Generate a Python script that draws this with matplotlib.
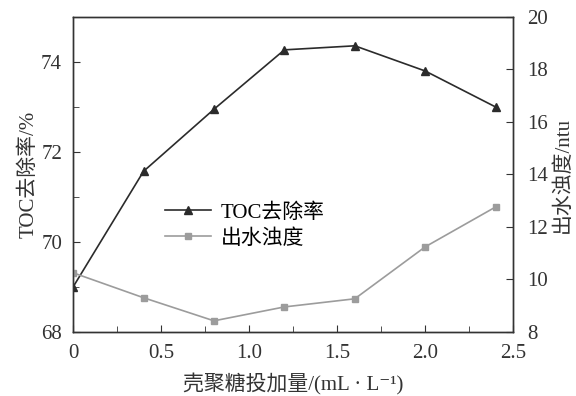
import matplotlib
matplotlib.use('Agg')
import matplotlib.pyplot as plt
from matplotlib.ticker import MultipleLocator

plt.rcParams['font.family'] = ['Liberation Serif', 'Noto Sans CJK SC', 'DejaVu Serif']

dose = [0, 0.4, 0.8, 1.2, 1.6, 2.0, 2.4]
toc_removal = [69.0, 71.57, 72.95, 74.27, 74.36, 73.8, 73.0]
turbidity = [10.25, 9.3, 8.42, 8.95, 9.26, 11.24, 12.76]
xtick_labels = ['0', '0.5', '1.0', '1.5', '2.0', '2.5']

dark = '#2b2b2b'
grey = '#9c9c9c'
txt = '#333333'

fig = plt.figure(figsize=(5.76, 3.96), dpi=100)
ax1 = fig.add_axes([0.127, 0.162, 0.764, 0.795])
ax2 = ax1.twinx()

l1, = ax1.plot(dose, toc_removal, color=dark, lw=1.2, marker='^', ms=5.5,
               label='TOC去除率', zorder=3)
l2, = ax2.plot(dose, turbidity, color=grey, lw=1.2, marker='s', ms=4.5,
               label='出水浊度')

ax1.set_xlim(0, 2.5)
ax1.set_ylim(68, 75)
ax2.set_ylim(8, 20)
ax1.xaxis.set_minor_locator(MultipleLocator(0.25))
ax1.yaxis.set_major_locator(MultipleLocator(2))
ax1.yaxis.set_minor_locator(MultipleLocator(1))
ax2.yaxis.set_major_locator(MultipleLocator(2))
ax1.set_xticks([0, 0.5, 1.0, 1.5, 2.0, 2.5])
ax1.set_xticklabels(xtick_labels)

for a in (ax1, ax2):
    a.tick_params(which='both', direction='in', labelsize=15, colors=txt)
    a.tick_params(which='major', length=5)
    a.tick_params(which='minor', length=4)
    for s in a.spines.values():
        s.set_color(txt)
        s.set_linewidth(1.0)
ax1.tick_params(axis='x', which='major', pad=9)
ax1.tick_params(axis='y', which='major', pad=8)
ax2.tick_params(axis='y', which='major', pad=10)

ax1.set_xlabel('壳聚糖投加量/(mL · L⁻¹)', fontsize=15, color=txt, labelpad=7)
ax1.set_ylabel('TOC去除率/%', fontsize=15, color=txt, labelpad=2)
ax2.set_ylabel('出水浊度/ntu', fontsize=15, color=txt, labelpad=4)

ax1.legend([l1, l2], ['TOC去除率', '出水浊度'], loc='upper left',
           bbox_to_anchor=(0.286, 0.487), bbox_transform=fig.transFigure,
           frameon=False, fontsize=15, borderpad=0, borderaxespad=0,
           handlelength=2.2, handletextpad=0.5, labelspacing=0.3)

fig.savefig('out.png', dpi=100)
